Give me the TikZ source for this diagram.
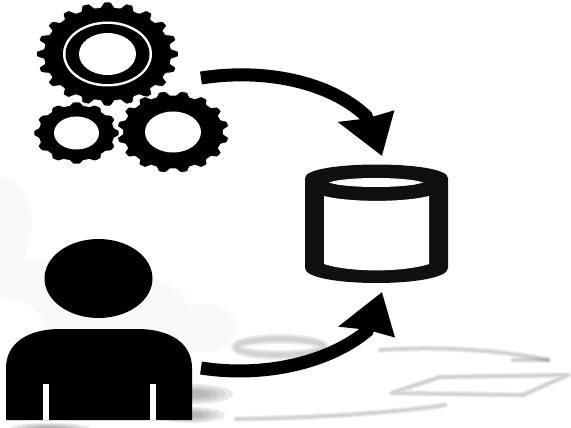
\documentclass[tikz,border=0pt]{standalone}
\usetikzlibrary{arrows.meta}
\definecolor{cloudblue}{HTML}{F7F9FB}
\definecolor{iconblack}{HTML}{000000}
\definecolor{dbblack}{HTML}{101010}
\tikzset{
  iconfill/.style={fill=iconblack,draw=none},
  holefill/.style={fill=white,draw=none},
  cloudfill/.style={fill=cloudblue,draw=none},
  shadowline/.style={draw=black!60,opacity=0.11,line cap=round,line join=round,line width=#1},
  shadowblob/.style={fill=black!60,draw=none,opacity=0.14},
  flowarrow/.style={draw=iconblack,line width=13pt,
    -{Stealth[length=42pt,width=54pt,inset=1.5pt,slant=#1]}},
}
% one toothed wheel: centre x, centre y, radius x, radius y, teeth, phase
\newcommand{\gearshape}[6]{
  \filldraw[fill=iconblack,draw=white,line width=0.8pt] plot[domain=0:360,samples=361,smooth]
    ({#1+#3*(0.9+0.1*min(1,max(0,0.5+0.85*cos(#5*(\x-90+#6)))))*cos(\x)},
     {#2+#4*(0.9+0.1*min(1,max(0,0.5+0.85*cos(#5*(\x-90+#6)))))*sin(\x)}) -- cycle;
}
\begin{document}
\begin{tikzpicture}[x=1pt,y=-1pt]
  \useasboundingbox (0,0) rectangle (571,428);
  \clip (0,0) rectangle (571,428);
  % faint cloud behind the user
  \fill[cloudfill] (0,225) ellipse (32 and 48);
  \fill[cloudfill] (20,300) ellipse (70 and 42);
  \fill[cloudfill] (125,320) ellipse (68 and 45);
  \fill[cloudfill] (205,328) ellipse (32 and 24);
  \fill[holefill] (0,340) ellipse (48 and 42);
  % faint reflections on the floor
  \foreach \wd in {10,7,4} {
    \draw[shadowline=\wd pt] (280,347) ellipse (44 and 8);
  }
  \foreach \wd in {6,4,2} {
    \draw[shadowline=\wd pt] (380,350) .. controls (440,346) and (500,350) .. (548,360);
    \draw[shadowline=\wd pt] (513,360) -- (548,360);
    \draw[shadowline=\wd pt] (392,393) -- (440,377) -- (568,375) -- (523,395) -- cycle;
    \draw[shadowline=\wd pt] (236,419) .. controls (320,418) and (400,412) .. (445,405);
  }
  \foreach \grow in {1,0.8,0.6,0.4} {
    \fill[shadowblob] (195,394) ellipse ({38*\grow} and {10*\grow});
    \fill[shadowblob] (190,415) ellipse ({35*\grow} and {8*\grow});
    \fill[shadowblob] (50,428) ellipse ({40*\grow} and {5*\grow});
  }
  % gears
  \gearshape{107.5}{54}{71}{52}{20}{0}
  \fill[holefill] (107.5,54) ellipse (44.5 and 32.5);
  \fill[iconfill] (107.5,54) ellipse (42 and 30);
  \fill[holefill] (107.5,54) ellipse (28.5 and 21);
  \gearshape{76.5}{133}{42.5}{31}{12}{0}
  \fill[holefill] (76.5,133) ellipse (22.5 and 16.5);
  \gearshape{173}{132}{56}{41}{16}{11.25}
  \fill[holefill] (173,132) ellipse (28 and 20.5);
  % user
  \fill[iconfill] (98.5,278.5) ellipse (54 and 39.5);
  \fill[iconfill] (6,420) -- (6,368) .. controls (6,343) and (28,329) .. (60,329)
    -- (137,329) .. controls (170,329) and (192,343) .. (192,368) -- (192,420) -- cycle;
  \fill[holefill] (43,384) rectangle (49,420);
  \fill[holefill] (150,384) rectangle (156,420);
  % data store
  \fill[dbblack] (305,178) .. controls (305,160) and (448,160) .. (448,178)
    -- (448,268) .. controls (448,288) and (305,288) .. (305,268) -- cycle;
  \fill[holefill] (329,182.5) .. controls (345,176.5) and (407,176.5) .. (423,182.5)
    .. controls (407,188.5) and (345,188.5) .. (329,182.5) -- cycle;
  \fill[holefill] (324,196) .. controls (350,202.5) and (403,202.5) .. (429,196)
    -- (429,264) .. controls (403,272.5) and (350,272.5) .. (324,264) -- cycle;
  % connectors
  \coordinate (gearsout) at (201,78);
  \coordinate (gearsbend) at (366,116);
  \coordinate (dbtop) at (382,156);
  \coordinate (userout) at (201,368);
  \coordinate (userbend) at (367,331);
  \coordinate (dbbottom) at (382,292);
  \draw[flowarrow=0.18] (gearsout) .. controls (265,68) and (330,82) .. (gearsbend) -- (dbtop);
  \draw[flowarrow=-0.18] (userout) .. controls (265,378) and (330,362) .. (userbend) -- (dbbottom);
\end{tikzpicture}
\end{document}
